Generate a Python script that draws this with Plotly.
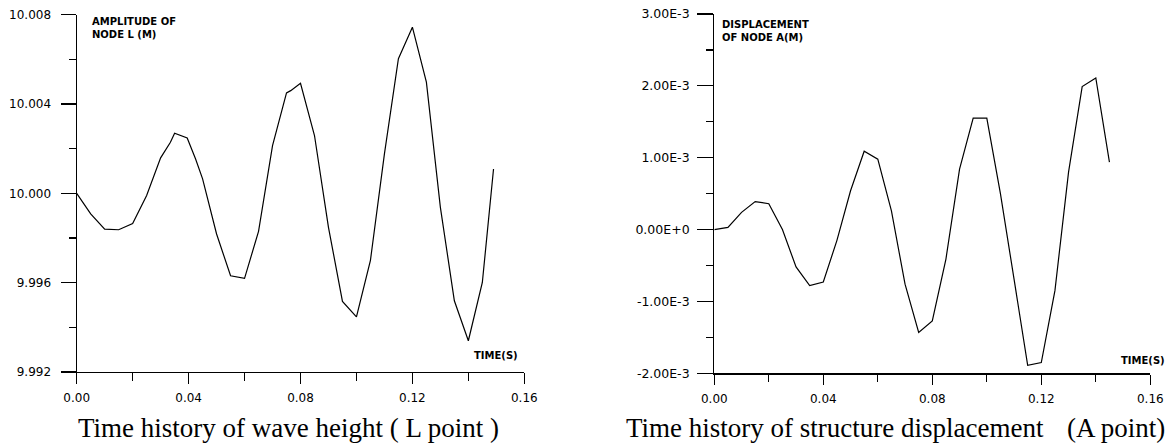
import plotly.graph_objects as go

# ---------------- data ----------------
t_wave = [0.0, 0.005, 0.010, 0.015, 0.020, 0.025, 0.030, 0.0335, 0.035, 0.037,
          0.0395, 0.0425, 0.045, 0.050, 0.055, 0.060, 0.065, 0.070, 0.075, 0.0765,
          0.080, 0.085, 0.090, 0.095, 0.100, 0.105, 0.110, 0.115, 0.120, 0.125,
          0.130, 0.135, 0.140, 0.145, 0.149]
h_wave = [10.00000, 9.99908, 9.99840, 9.99837, 9.99865, 9.99990, 10.00159, 10.00229, 10.00269, 10.00259,
          10.00248, 10.00154, 10.00065, 9.99818, 9.99631, 9.99619, 9.99830, 10.00214, 10.00450, 10.00460,
          10.00493, 10.00259, 9.99848, 9.99516, 9.99447, 9.99700, 10.00177, 10.00603, 10.00744, 10.00498,
          9.99937, 9.99519, 9.99340, 9.99601, 10.00109]

t_disp = [0.000, 0.005, 0.010, 0.015, 0.020, 0.025, 0.030, 0.035, 0.040, 0.045,
          0.050, 0.055, 0.060, 0.065, 0.070, 0.075, 0.080, 0.085, 0.090, 0.095,
          0.100, 0.105, 0.110, 0.115, 0.120, 0.125, 0.130, 0.135, 0.140, 0.145]
d_disp = [0.00e-3, 0.03e-3, 0.24e-3, 0.39e-3, 0.36e-3, 0.00e-3, -0.52e-3, -0.78e-3, -0.73e-3, -0.15e-3,
          0.54e-3, 1.09e-3, 0.98e-3, 0.26e-3, -0.76e-3, -1.43e-3, -1.27e-3, -0.41e-3, 0.84e-3, 1.55e-3,
          1.55e-3, 0.50e-3, -0.69e-3, -1.89e-3, -1.85e-3, -0.85e-3, 0.80e-3, 1.99e-3, 2.11e-3, 0.94e-3]

x_tick_vals = [0.00, 0.04, 0.08, 0.12, 0.16]
x_tick_text = ["0.00", "0.04", "0.08", "0.12", "0.16"]
x_minor_vals = [0.02, 0.06, 0.10, 0.14]

y1_tick_vals = [9.992, 9.996, 10.000, 10.004, 10.008]
y1_tick_text = ["9.992", "9.996", "10.000", "10.004", "10.008"]
y1_minor_vals = [9.994, 9.998, 10.002, 10.006]

y2_tick_vals = [-2e-3, -1e-3, 0.0, 1e-3, 2e-3, 3e-3]
y2_tick_text = ["-2.00E-3", "-1.00E-3", "0.00E+0", "1.00E-3", "2.00E-3", "3.00E-3"]
y2_minor_vals = [-1.5e-3, -0.5e-3, 0.5e-3, 1.5e-3, 2.5e-3]

label1 = "AMPLITUDE OF<br>NODE L (M)"
label2 = "DISPLACEMENT<br>OF NODE A(M)"
time_label = "TIME(S)"
caption1 = "Time history of wave height ( L point )"
caption2a = "Time history of structure displacement"
caption2b = "(A point)"

# ---------------- layout helpers ----------------
W, H = 1170, 447
def fx(p):
    return p / W
def fy(p):
    return 1 - p / H

tick_font = dict(family="DejaVu Sans", size=12, color="black")
common = dict(showline=True, linecolor="black", linewidth=1.2, showgrid=False,
              zeroline=False, ticks="outside", tickcolor="black", tickwidth=1.2,
              tickfont=tick_font, fixedrange=True, automargin=False)

fig = go.Figure()
fig.add_trace(go.Scatter(x=t_wave, y=h_wave, mode="lines",
                         line=dict(color="black", width=1.2),
                         xaxis="x", yaxis="y", showlegend=False, cliponaxis=False))
fig.add_trace(go.Scatter(x=t_disp, y=d_disp, mode="lines",
                         line=dict(color="black", width=1.2),
                         xaxis="x2", yaxis="y2", showlegend=False, cliponaxis=False))

fig.update_layout(
    template="none",
    width=W, height=H, margin=dict(l=0, r=0, t=0, b=0, pad=0), autosize=False,
    paper_bgcolor="white", plot_bgcolor="white", showlegend=False,
    xaxis=dict(**common, domain=[fx(76.7), fx(524.3)], anchor="y", range=[0, 0.16],
               tickmode="array", tickvals=x_tick_vals, ticktext=x_tick_text, ticklen=11,
               ticklabelstandoff=3,
               minor=dict(tickmode="array", tickvals=x_minor_vals, ticks="outside",
                          ticklen=8, tickcolor="black", tickwidth=1.2)),
    yaxis=dict(**common, domain=[fy(372), fy(14.7)], anchor="x", range=[9.992, 10.008],
               tickmode="array", tickvals=y1_tick_vals, ticktext=y1_tick_text, ticklen=15,
               ticklabelstandoff=7,
               minor=dict(tickmode="array", tickvals=y1_minor_vals, ticks="outside",
                          ticklen=7, tickcolor="black", tickwidth=1.2)),
    xaxis2=dict(**common, domain=[fx(714.3), fx(1150.3)], anchor="y2", range=[0, 0.16],
                tickmode="array", tickvals=x_tick_vals, ticktext=x_tick_text, ticklen=10,
                ticklabelstandoff=4,
                minor=dict(tickmode="array", tickvals=x_minor_vals, ticks="outside",
                           ticklen=7, tickcolor="black", tickwidth=1.2)),
    yaxis2=dict(**common, domain=[fy(373.3), fy(14)], anchor="x2", range=[-2e-3, 3e-3],
                tickmode="array", tickvals=y2_tick_vals, ticktext=y2_tick_text, ticklen=16,
                ticklabelstandoff=5,
                minor=dict(tickmode="array", tickvals=y2_minor_vals, ticks="outside",
                           ticklen=7, tickcolor="black", tickwidth=1.2)),
)
fig.update_yaxes(tickfont=dict(family="DejaVu Sans", size=12.5, color="black"), selector=dict(anchor="x2"))

bold_font = dict(family="DejaVu Sans", size=10, color="black", weight="bold")
cap_font = dict(family="Liberation Serif", size=27, color="black")

annotations = [
    dict(text=label1, x=fx(90.5), y=fy(15.5), xanchor="left", yanchor="top", align="left",
         font=bold_font),
    dict(text=label2, x=fx(720.5), y=fy(18), xanchor="left", yanchor="top", align="left",
         font=bold_font),
    dict(text=time_label, x=fx(473), y=fy(355.5), xanchor="left", yanchor="middle",
         font=bold_font),
    dict(text=time_label, x=fx(1119.5), y=fy(360.3), xanchor="left", yanchor="middle",
         font=bold_font),
    dict(text=caption1, x=fx(288.8), y=fy(428), xanchor="center", yanchor="middle",
         font=cap_font),
    dict(text=caption2a, x=fx(625), y=fy(428), xanchor="left", yanchor="middle",
         font=cap_font),
    dict(text=caption2b, x=fx(1066), y=fy(428), xanchor="left", yanchor="middle",
         font=cap_font),
]
for a in annotations:
    a.update(xref="paper", yref="paper", showarrow=False, borderpad=0)
fig.update_layout(annotations=annotations)

# remove the page's default body margin so the figure sits at the window's top-left corner
fig.write_html("out.html", config=dict(displayModeBar=False, staticPlot=True),
               post_script="document.body.style.margin='0px';document.body.style.overflow='hidden';")
